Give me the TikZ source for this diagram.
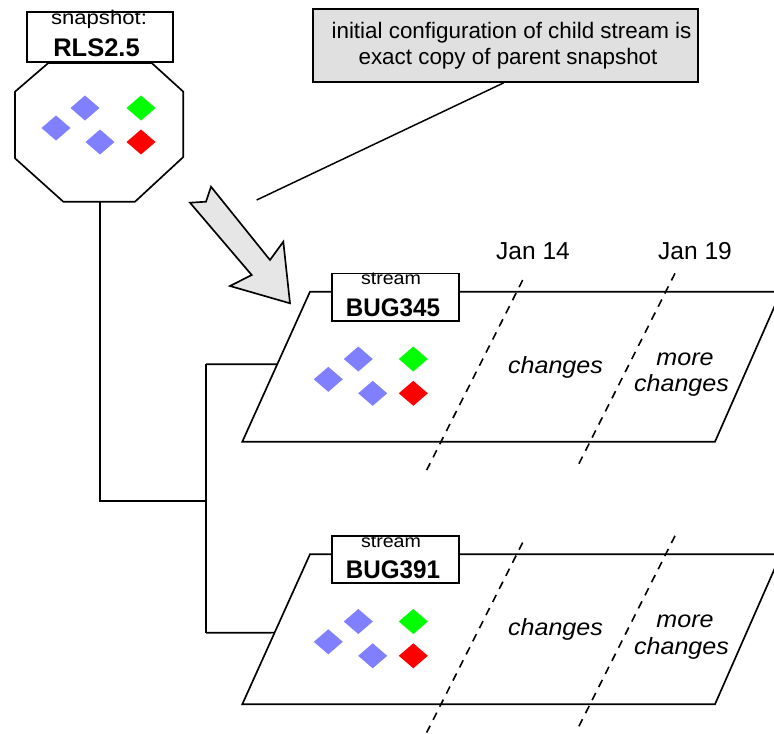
\documentclass[tikz,border=0pt]{standalone}
\usepackage{fontspec}
\usepackage{graphicx}
\setmainfont{Liberation Sans}
\usetikzlibrary{calc}
\definecolor{gemblue}{RGB}{128,128,255}
\definecolor{gemgreen}{RGB}{0,255,0}
\definecolor{gemred}{RGB}{255,0,0}
\definecolor{boxgray}{RGB}{224,224,224}
\definecolor{arrowgray}{RGB}{230,230,230}
\newcommand{\gemat}[3]{%
  \coordinate (#1) at #2;
  \fill[#3] (#1) ++(-14.5,0) -- ++(14.5,-12.5) -- ++(14.5,12.5) -- ++(-14.5,12.5) -- cycle;}
\begin{document}
\begin{tikzpicture}[x=0.75pt,y=-0.75pt,
  line width=1.25pt,
  labelbox/.style={draw, fill=white, inner sep=0pt, line width=1.25pt},
  txt/.style={inner sep=0pt, anchor=base},
  smalltxt/.style={txt, font=\fontsize{14.8}{16}\selectfont},
  boldtxt/.style={txt, font=\fontsize{19.1}{22}\selectfont\bfseries},
  jantxt/.style={txt, font=\fontsize{18.4}{22}\selectfont},
  chgtxt/.style={txt, font=\fontsize{17.6}{21}\selectfont\itshape},
  calltxt/.style={txt, font=\fontsize{16.8}{20}\selectfont},
  datedash/.style={dash pattern=on 6pt off 5pt, line width=1.2pt},
]
\useasboundingbox[fill=white] (0,0) rectangle (774,733);
\clip (0,0) rectangle (774,733);

% snapshot octagon
\coordinate (o1) at (48.3,63);
\coordinate (o2) at (15,91.7);
\coordinate (o3) at (15,158.3);
\coordinate (o4) at (63.3,201.7);
\coordinate (o5) at (135,201.7);
\coordinate (o6) at (183.3,157);
\coordinate (o7) at (183.3,91.7);
\coordinate (o8) at (151.7,63);
\coordinate (snapbot) at (100,201.7);
\draw[line join=round] (o1) -- (o2) -- (o3) -- (o4) -- (o5) -- (o6) -- (o7) -- (o8) -- cycle;
\node[labelbox, minimum width=109.5pt, minimum height=37.5pt] (snapbox) at (100,37) {};
\node[smalltxt] (snaptitle) at (99,24.7) {\scalebox{1.12}[1]{snapshot:}};
\node[boldtxt] (snapname) at (96.5,56.3) {RLS2.5};
\gemat{sb1}{(56,128)}{gemblue}
\gemat{sb2}{(85,108)}{gemblue}
\gemat{sb3}{(100,142)}{gemblue}
\gemat{sg}{(141,108)}{gemgreen}
\gemat{sr}{(141,142)}{gemred}

% callout
\node[draw, fill=boxgray, line width=1.4pt, minimum width=288.75pt, minimum height=54.75pt, inner sep=0pt] (callout) at (505.5,45.5) {};
\node[calltxt] (callone) at (511.5,38.3) {initial configuration of child stream is};
\node[calltxt] (calltwo) at (508,64.3) {exact copy of parent snapshot};
\coordinate (ctip) at (256.7,200);
\draw[line width=1.1pt] ($(callout.south)+(-2,0)$) -- (ctip);

% block arrow
\filldraw[fill=arrowgray, line width=1.25pt, line join=miter]
  (190,202.7) -- (206,201.7) -- (211,186.7) -- (270,260) -- (283.3,241.7)
  -- (290,303.3) -- (230,286) -- (251.7,275) -- cycle;

% dates
\node[jantxt] (jan14) at (533,259) {Jan 14};
\node[jantxt] (jan19) at (695,259) {Jan 19};

% streams
\foreach \s/\lab/\dy/\fr in {a/BUG345/0/0.484, b/BUG391/262.5/0.523} {
  \begin{scope}[shift={(0,\dy)}]
    \coordinate (tl\s) at (310,291.7);
    \coordinate (tr\s) at (781,291.7);
    \coordinate (br\s) at (715,441.7);
    \coordinate (bl\s) at (242.3,441.7);
    \draw[line join=miter] (tl\s) -- (tr\s) -- (br\s) -- (bl\s) -- cycle;
    \coordinate (da\s) at (522.7,280);
    \coordinate (db\s) at (426.7,470);
    \coordinate (dc\s) at (675,273.3);
    \coordinate (dd\s) at (578.3,465);
    \draw[datedash] (da\s) -- (db\s);
    \draw[datedash] (dc\s) -- (dd\s);
    \node[labelbox, minimum width=95.7pt, minimum height=35.5pt] (box\s) at (395.5,297) {};
    \node[smalltxt, font=\fontsize{13.5}{15}\selectfont] (kind\s) at (391,284.7) {\scalebox{1.09}[1]{stream}};
    \node[boldtxt] (name\s) at (393,316.3) {\scalebox{0.95}[1]{\lab}};
    \gemat{b1\s}{(328.3,379.3)}{gemblue}
    \gemat{b2\s}{(358.3,359)}{gemblue}
    \gemat{b3\s}{(372.7,393.3)}{gemblue}
    \gemat{g\s}{(413.3,359)}{gemgreen}
    \gemat{r\s}{(413.3,393.3)}{gemred}
    \node[chgtxt] (chg\s) at (555.5,373.3) {\scalebox{1.07}[1]{changes}};
    \node[chgtxt] (more\s) at (685,365) {\scalebox{1.07}[1]{more}};
    \node[chgtxt] (mchg\s) at (681.5,391.7) {\scalebox{1.07}[1]{changes}};
    \coordinate (edge\s) at ($(tl\s)!\fr!(bl\s)$);
  \end{scope}
}

% tree connectors
\coordinate (j1) at (100,501);
\coordinate (j2) at (206,501);
\coordinate (ja) at (206,364.3);
\coordinate (jb) at (206,632.7);
\draw (snapbot) -- (j1) -- (j2);
\draw (ja) -- (jb);
\draw (ja) -- (edgea);
\draw (jb) -- (edgeb);
\end{tikzpicture}
\end{document}
